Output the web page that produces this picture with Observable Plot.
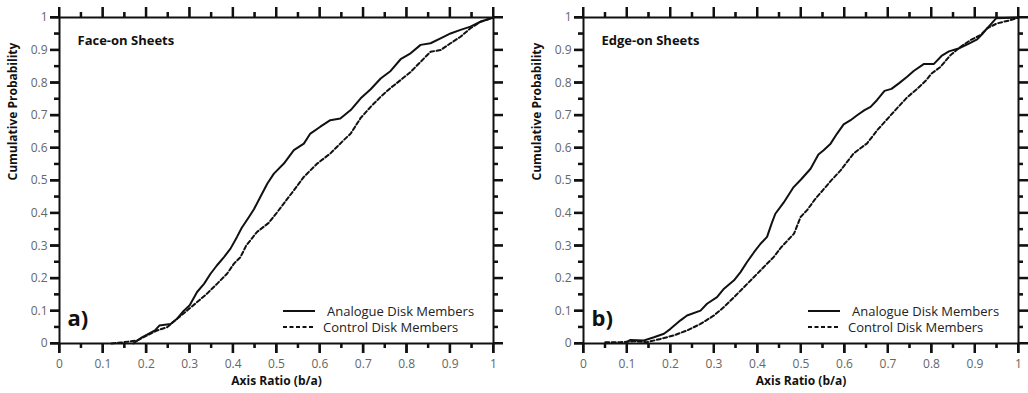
<!DOCTYPE html>
<html>
<head>
<meta charset="utf-8">
<script src="https://cdn.jsdelivr.net/npm/d3@7"></script>
<script src="https://cdn.jsdelivr.net/npm/@observablehq/plot@0.6"></script>
<style>
  html, body { margin: 0; padding: 0; background: white; }
  #wrap { display: flex; flex-direction: row; width: 1028px; height: 393px; }
  #wrap > svg { flex: none; }
</style>
</head>
<body>
<div id="wrap"></div>
<script>
// ---- Data ----
const xTicks = [0, 0.1, 0.2, 0.3, 0.4, 0.5, 0.6, 0.7, 0.8, 0.9, 1];
const yTicks = [0, 0.1, 0.2, 0.3, 0.4, 0.5, 0.6, 0.7, 0.8, 0.9, 1];
const minorTicks = [0.05, 0.15, 0.25, 0.35, 0.45, 0.55, 0.65, 0.75, 0.85, 0.95];
const seriesNames = ["Analogue Disk Members", "Control Disk Members"];
const panelTitles = ["Face-on Sheets", "Edge-on Sheets"];
const panelLetters = ["a)", "b)"];

// Panel a) Face-on sheets
const faceAnalogueX = [0.17,0.19,0.22,0.23,0.256,0.271,0.286,0.30,0.317,0.333,0.348,0.363,0.379,0.394,0.409,0.42,0.435,0.448,0.463,0.479,0.494,0.517,0.54,0.563,0.578,0.601,0.624,0.647,0.671,0.694,0.717,0.74,0.763,0.786,0.809,0.832,0.855,0.878,0.901,0.924,0.947,0.97,0.993,1.0];
const faceAnalogueY = [0,0.019,0.04,0.055,0.06,0.076,0.10,0.117,0.158,0.183,0.214,0.24,0.265,0.291,0.327,0.355,0.385,0.412,0.45,0.491,0.521,0.552,0.593,0.613,0.644,0.665,0.685,0.69,0.716,0.752,0.78,0.813,0.836,0.872,0.89,0.916,0.921,0.936,0.951,0.962,0.972,0.987,0.997,1.0];
const faceControlX = [0.12,0.148,0.179,0.202,0.225,0.248,0.271,0.294,0.317,0.34,0.363,0.386,0.402,0.417,0.43,0.455,0.482,0.50,0.52,0.54,0.563,0.594,0.624,0.655,0.671,0.694,0.717,0.74,0.763,0.786,0.809,0.832,0.855,0.878,0.901,0.924,0.947,0.97,0.993,1.0];
const faceControlY = [0,0.004,0.009,0.025,0.04,0.05,0.076,0.101,0.127,0.153,0.183,0.214,0.245,0.265,0.30,0.342,0.37,0.40,0.435,0.47,0.511,0.552,0.583,0.624,0.644,0.692,0.726,0.757,0.784,0.808,0.833,0.864,0.895,0.90,0.921,0.941,0.967,0.987,0.997,1.0];

// Panel b) Edge-on sheets
const edgeAnalogueX = [0.10,0.108,0.139,0.162,0.185,0.20,0.223,0.238,0.269,0.284,0.307,0.323,0.346,0.361,0.376,0.392,0.407,0.422,0.433,0.441,0.46,0.482,0.50,0.522,0.54,0.552,0.568,0.583,0.598,0.614,0.629,0.646,0.66,0.675,0.692,0.708,0.725,0.744,0.759,0.782,0.805,0.823,0.84,0.862,0.886,0.905,0.918,0.932,0.949,1.0];
const edgeAnalogueY = [0.005,0.011,0.009,0.019,0.03,0.045,0.071,0.086,0.101,0.122,0.142,0.168,0.194,0.219,0.25,0.28,0.306,0.327,0.37,0.398,0.432,0.478,0.503,0.536,0.58,0.593,0.613,0.644,0.672,0.685,0.70,0.716,0.726,0.747,0.775,0.781,0.798,0.818,0.836,0.857,0.857,0.882,0.896,0.905,0.92,0.933,0.951,0.973,0.998,1.0];
const edgeControlX = [0.05,0.085,0.116,0.146,0.177,0.208,0.238,0.269,0.30,0.323,0.346,0.369,0.392,0.414,0.437,0.455,0.484,0.499,0.514,0.532,0.55,0.57,0.591,0.621,0.652,0.675,0.698,0.721,0.744,0.766,0.786,0.80,0.821,0.844,0.867,0.89,0.913,0.928,0.951,0.982,1.0];
const edgeControlY = [0.004,0.004,0.007,0.004,0.014,0.025,0.04,0.06,0.086,0.112,0.142,0.173,0.204,0.234,0.265,0.296,0.337,0.388,0.409,0.442,0.47,0.501,0.531,0.583,0.614,0.654,0.688,0.722,0.755,0.78,0.805,0.828,0.849,0.885,0.91,0.931,0.946,0.967,0.982,0.992,1.0];

const zip = (xs, ys) => xs.map((x, i) => ({x, y: ys[i]}));

const panels = [
  {title: panelTitles[0], letter: panelLetters[0], analogue: zip(faceAnalogueX, faceAnalogueY), control: zip(faceControlX, faceControlY),
   width: 514, marginLeft: 59, marginRight: 21},
  {title: panelTitles[1], letter: panelLetters[1], analogue: zip(edgeAnalogueX, edgeAnalogueY), control: zip(edgeControlX, edgeControlY),
   width: 514, marginLeft: 69, marginRight: 10}
];

const FONT = "'Open Sans', 'Noto Sans', sans-serif";
const fmt = d => String(+d.toFixed(1));
const wrap = document.getElementById("wrap");
const INK = "#111";

for (const p of panels) {
  const marginTop = 17, marginBottom = 50, height = 393;
  const H = height - marginTop - marginBottom;         // frame height (px)
  const W = p.width - p.marginLeft - p.marginRight;    // frame width (px)
  const st = {stroke: INK, strokeWidth: 2};
  // tick lengths expressed in data units of the unit domains
  const tx = (px) => px / H, ty = (px) => px / W;
  // filled tick stubs (2px wide) built from the scales
  const xStub = (vals, from, len) => Plot.rect(vals, {x1: d => d, x2: d => d, y1: from, y2: from + len, insetLeft: -1, insetRight: -1, fill: INK});
  const yStub = (vals, from, len) => Plot.rect(vals, {y1: d => d, y2: d => d, x1: from, x2: from + len, insetTop: -1, insetBottom: -1, fill: INK});
  const plot = Plot.plot({
    width: p.width,
    height,
    marginLeft: p.marginLeft,
    marginRight: p.marginRight,
    marginTop,
    marginBottom,
    style: {fontFamily: FONT, fontSize: "12px"},
    x: {domain: [0, 1], ticks: xTicks, tickFormat: fmt, tickSize: 10, tickPadding: 6, label: null},
    y: {domain: [0, 1], ticks: yTicks, tickFormat: fmt, tickSize: 9, tickPadding: 3, label: null},
    marks: [
      // outward tick stubs on all four sides (major 10px, minor 5px)
      xStub(xTicks, 0, -tx(10)), xStub(minorTicks, 0, -tx(5)),
      xStub(xTicks, 1, tx(10)), xStub(minorTicks, 1, tx(5)),
      yStub(yTicks, 0, -ty(9)), yStub(minorTicks, 0, -ty(5)),
      yStub(yTicks, 1, ty(10)), yStub(minorTicks, 1, ty(5)),
      Plot.ruleX(xTicks, {x: d => d, y1: 0, y2: -tx(10), ...st}),
      Plot.ruleX(minorTicks, {x: d => d, y1: 0, y2: -tx(5), ...st}),
      Plot.ruleX(xTicks, {x: d => d, y1: 1, y2: 1 + tx(10), ...st}),
      Plot.ruleX(minorTicks, {x: d => d, y1: 1, y2: 1 + tx(5), ...st}),
      Plot.ruleY(yTicks, {y: d => d, x1: 0, x2: -ty(9), ...st}),
      Plot.ruleY(minorTicks, {y: d => d, x1: 0, x2: -ty(5), ...st}),
      Plot.ruleY(yTicks, {y: d => d, x1: 1, x2: 1 + ty(10), ...st}),
      Plot.ruleY(minorTicks, {y: d => d, x1: 1, x2: 1 + ty(5), ...st}),
      Plot.line(p.control, {x: "x", y: "y", stroke: INK, strokeWidth: 2, strokeDasharray: "4,2.5"}),
      Plot.line(p.analogue, {x: "x", y: "y", stroke: INK, strokeWidth: 2}),
      Plot.frame({stroke: INK, strokeWidth: 2}),
      Plot.text([p.title], {frameAnchor: "top-left", dx: 18, dy: 18, textAnchor: "start", fontWeight: "bold", fontSize: 13, fill: INK}),
      Plot.text([p.letter], {frameAnchor: "bottom-left", dx: 8, dy: -18, textAnchor: "start", fontWeight: "bold", fontSize: 22, fill: INK}),
      Plot.text(["Axis Ratio (b/a)"], {frameAnchor: "bottom", dy: 41, fontWeight: "bold", fontSize: 12, fill: INK}),
      Plot.text(["Cumulative Probability"], {frameAnchor: "left", dx: -46, rotate: -90, fontWeight: "bold", fontSize: 12, fill: INK})
    ]
  });
  const svg = d3.select(plot);
  svg.selectAll("g[aria-label='x-axis tick label'], g[aria-label='y-axis tick label']").attr("fill", "#666");
  svg.selectAll("g[aria-label='x-axis tick'], g[aria-label='y-axis tick']").attr("stroke", INK).attr("stroke-width", 2);

  // Legend, laid out relative to the frame's bottom-right corner
  const fx2 = p.width - p.marginRight;
  const fy2 = height - marginBottom;
  const lg = svg.append("g").attr("font-family", FONT).attr("font-size", 13).attr("fill", "#222").attr("text-anchor", "start");
  const rows = [
    {name: seriesNames[0], dash: null, dy: -32, tx: -166},
    {name: seriesNames[1], dash: "4,2.5", dy: -16, tx: -170}
  ];
  for (const r of rows) {
    lg.append("line")
      .attr("x1", fx2 - 210).attr("x2", fx2 - 178)
      .attr("y1", fy2 + r.dy).attr("y2", fy2 + r.dy)
      .attr("stroke", INK).attr("stroke-width", 2)
      .attr("stroke-dasharray", r.dash);
    lg.append("text")
      .attr("x", fx2 + r.tx).attr("y", fy2 + r.dy)
      .attr("dy", "0.35em")
      .text(r.name);
  }
  wrap.appendChild(plot);
}
</script>
</body>
</html>
